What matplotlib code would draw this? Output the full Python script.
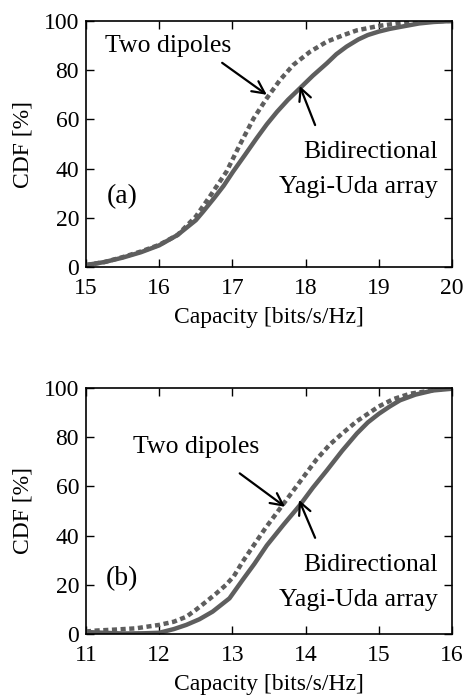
import matplotlib
matplotlib.use("Agg")
import matplotlib.pyplot as plt

plt.rcParams['font.family'] = ['Liberation Serif', 'DejaVu Serif']

# Panel (a)
xa_yagi = [15.0, 15.25, 15.5, 15.75, 16.0, 16.25, 16.5, 16.6, 16.75, 16.88, 17.01, 17.17, 17.33, 17.47, 17.61, 17.76, 17.92, 18.1, 18.29, 18.42, 18.56, 18.72, 18.85, 19.0, 19.15, 19.33, 19.55, 19.75, 20.0]
ya_yagi = [0.8, 2, 3.8, 6, 8.8, 13, 19, 22.5, 28, 33, 38.8, 45.5, 52.3, 58, 63.1, 68, 72.6, 77.8, 82.8, 86.5, 89.6, 92.5, 94.3, 95.7, 96.8, 97.8, 99, 99.6, 100]
xa_dip = [15.0, 15.25, 15.5, 15.75, 16.0, 16.25, 16.5, 16.69, 16.92, 17.1, 17.29, 17.47, 17.65, 17.83, 18.06, 18.29, 18.52, 18.7, 19.0, 19.25, 19.5, 20.0]
ya_dip = [0.8, 2, 4, 6.3, 9, 13, 20.5, 28.6, 38.8, 49.6, 60.4, 68.6, 76, 82.1, 87.5, 91.6, 94.3, 96.2, 98, 99, 100, 100]

# Panel (b)
xb_yagi = [11.0, 11.5, 11.8, 12.0, 12.2, 12.37, 12.55, 12.73, 12.96, 13.14, 13.3, 13.47, 13.7, 13.92, 14.1, 14.29, 14.5, 14.7, 14.85, 15.0, 15.15, 15.29, 15.5, 15.74, 16.0]
yb_yagi = [0.8, 0.2, 0.3, 0.5, 2, 3.7, 6, 9.1, 14.5, 22, 28.5, 36, 44.5, 52.3, 59.5, 66.5, 74.5, 81.5, 86, 89.5, 92.5, 95, 97.3, 99, 99.7]
xb_dip = [11.0, 11.14, 11.4, 11.68, 12.0, 12.2, 12.37, 12.5, 12.64, 12.78, 12.91, 13.02, 13.14, 13.29, 13.45, 13.6, 13.8, 14.0, 14.15, 14.33, 14.5, 14.7, 15.0, 15.2, 15.43, 15.84, 16.0]
yb_dip = [1, 1.4, 1.8, 2.3, 3.7, 5, 7, 9.8, 13.1, 16.5, 19.9, 23.5, 29.4, 36, 43, 49, 57, 65, 71, 77, 81.5, 86.5, 92.5, 95.5, 97.7, 99.5, 100]

xticks_a = [15, 16, 17, 18, 19, 20]
xticks_b = [11, 12, 13, 14, 15, 16]
yticks = [0, 20, 40, 60, 80, 100]

W, H = 468, 695
fig = plt.figure(figsize=(W/100, H/100), dpi=100)

def make_ax(top_px, bottom_px):
    left, right = 86, 452
    return fig.add_axes([left/W, 1 - bottom_px/H, (right-left)/W, (bottom_px-top_px)/H])

col = '#5e5e5e'
fs_tick = 17
fs_lab = 17
fs_txt = 18.5

def style(ax, xt, xlim):
    ax.set_xlim(*xlim)
    ax.set_ylim(0, 100)
    ax.set_xticks(xt)
    ax.set_yticks(yticks)
    ax.tick_params(direction='in', top=True, right=True, labelsize=fs_tick, length=6, width=1)
    ax.tick_params(axis='x', pad=8)
    ax.tick_params(axis='y', pad=5)
    for s in ax.spines.values():
        s.set_linewidth(1.2)
    ax.set_xlabel('Capacity [bits/s/Hz]', fontsize=fs_lab, labelpad=6)
    ax.set_ylabel('CDF [%]', fontsize=fs_lab, labelpad=7)

arrow = dict(arrowstyle='->', color='black', lw=1.6, mutation_scale=22, shrinkA=0, shrinkB=0)

ax1 = make_ax(21, 267)
ax1.plot(xa_yagi, ya_yagi, color=col, lw=3.2, solid_capstyle='butt')
ax1.plot(xa_dip, ya_dip, color=col, lw=3.2, dashes=(1.15, 0.8))
style(ax1, xticks_a, (15, 20))
ax1.text(15.26, 90, 'Two dipoles', fontsize=fs_txt, ha='left', va='center')
ax1.annotate('', xy=(17.47, 70), xytext=(16.86, 83), arrowprops=arrow)
ax1.annotate('', xy=(17.92, 73.6), xytext=(18.13, 57.7), arrowprops=arrow)
ax1.text(19.81, 46.7, 'Bidirectional', fontsize=fs_txt, ha='right', va='center')
ax1.text(19.81, 32.5, 'Yagi-Uda array', fontsize=fs_txt, ha='right', va='center')
ax1.text(15.49, 28.5, '(a)', fontsize=20, ha='center', va='center')

ax2 = make_ax(388, 634)
ax2.plot(xb_yagi, yb_yagi, color=col, lw=3.2, solid_capstyle='butt')
ax2.plot(xb_dip, yb_dip, color=col, lw=3.2, dashes=(1.15, 0.8))
style(ax2, xticks_b, (11, 16))
ax2.text(11.64, 76, 'Two dipoles', fontsize=fs_txt, ha='left', va='center')
ax2.annotate('', xy=(13.72, 51.7), xytext=(13.10, 65.3), arrowprops=arrow)
ax2.annotate('', xy=(13.91, 54.5), xytext=(14.13, 39.1), arrowprops=arrow)
ax2.text(15.81, 28, 'Bidirectional', fontsize=fs_txt, ha='right', va='center')
ax2.text(15.81, 13.8, 'Yagi-Uda array', fontsize=fs_txt, ha='right', va='center')
ax2.text(11.49, 22.6, '(b)', fontsize=20, ha='center', va='center')

fig.savefig('out.png', dpi=100)
